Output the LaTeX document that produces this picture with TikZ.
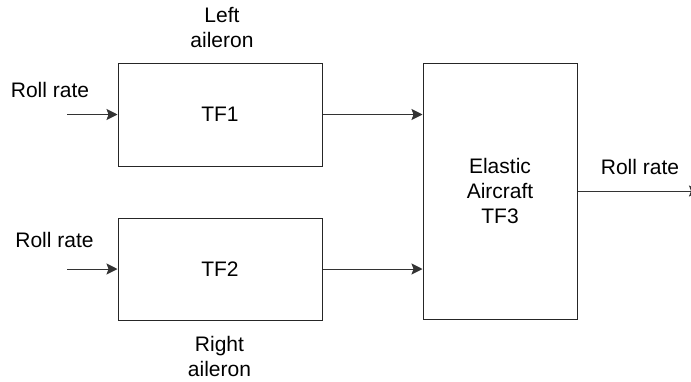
\documentclass[tikz,border=0pt]{standalone}
\usepackage{fontspec}
\setmainfont{Liberation Sans}
\usetikzlibrary{positioning,arrows.meta}

\begin{document}
\begin{tikzpicture}[
  x=1pt, y=-1pt,
  every node/.style={font=\fontsize{21}{25}\selectfont},
  block/.style={draw=black!85,line width=1pt,inner sep=0pt,align=center},
  link/.style={draw=black!80,line width=1pt,-{Stealth[length=11pt,width=11pt,inset=2pt]}},
  caption/.style={align=center,inner sep=0pt}
]
\useasboundingbox (0,0) rectangle (691,381);

% 各ブロック
\node[block,minimum width=204pt,minimum height=103pt] (tf1) at (220,114.5) {TF1};
\node[block,minimum width=204pt,minimum height=102pt] (tf2) at (220,269) {TF2};
\node[block,minimum width=154pt,minimum height=256pt] (tf3) at (500,191) {Elastic\\Aircraft\\TF3};

% ラベル
\node[caption] (left) at (222,27.5) {Left\\aileron};
\node[caption] (right) at (219.5,356) {Right\\aileron};
\node[caption] (rollinA) at (50,89.5) {Roll rate};
\node[caption] (rollinB) at (54.5,240) {Roll rate};
\node[caption] (rollout) at (640,167) {Roll rate};

% 入出力の端点（出力の矢先は右端で切れる）
\coordinate (inA) at (67,114.5);
\coordinate (inB) at (67,269);
\coordinate (out) at (700,191);

% 接続
\draw[link] (inA) -- (tf1);
\draw[link] (inB) -- (tf2);
\draw[link] (tf1.east) -- (tf1.east -| tf3.west);
\draw[link] (tf2.east) -- (tf2.east -| tf3.west);
\draw[link] (tf3.east) -- (out);

\end{tikzpicture}
\end{document}
